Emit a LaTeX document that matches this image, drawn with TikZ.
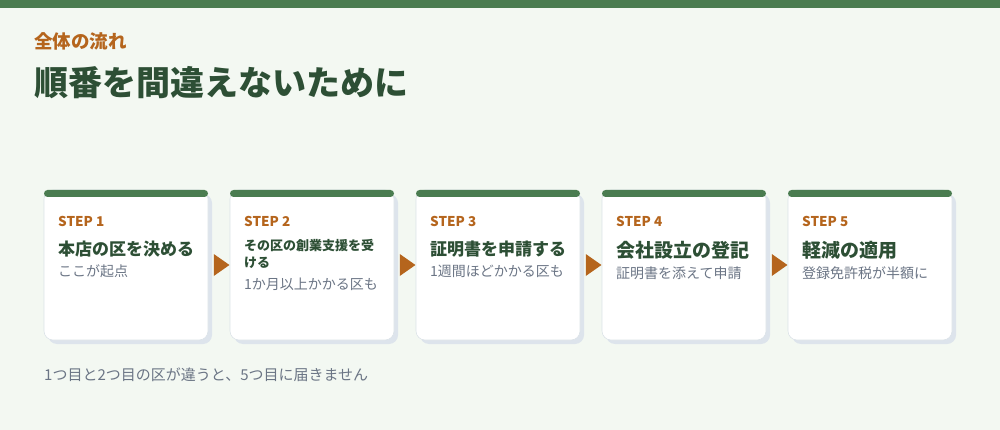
\documentclass[tikz,border=0pt]{standalone}
\usepackage{fontspec}
\setmainfont{Noto Sans CJK JP}
\usetikzlibrary{shapes.geometric}

\definecolor{bandgreen}{HTML}{4A7C50}
\definecolor{headgreen}{HTML}{2D4F35}
\definecolor{stepbrown}{HTML}{B5651D}
\definecolor{notegray}{HTML}{6B7585}
\definecolor{paper}{HTML}{F3F8F2}
\definecolor{cardshade}{HTML}{DDE4EC}
\definecolor{rim}{HTML}{DCE3E8}

\tikzset{
    steplabel/.style = {anchor=base west, inner sep=0pt, text=stepbrown, font=\fontsize{13.5}{13.5}\selectfont\bfseries},
    steptitle/.style = {anchor=base west, inner sep=0pt, text=headgreen, font=\fontsize{17}{17}\selectfont\bfseries},
    bigtitle/.style = {anchor=base west, inner sep=0pt, text=headgreen, font=\fontsize{19}{19}\selectfont\bfseries},
    smalltitle/.style = {anchor=base west, inner sep=0pt, text=headgreen, font=\fontsize{13}{13}\selectfont\bfseries},
    stepnote/.style = {anchor=base west, inner sep=0pt, text=notegray, font=\fontsize{14}{14}\selectfont},
    cardbox/.style = {fill=white, draw=rim, line width=0.6pt, rounded corners=9pt},
    nexttip/.style = {isosceles triangle, isosceles triangle apex angle=70, fill=stepbrown, inner sep=0pt, minimum height=15pt, minimum width=22pt}
}

\begin{document}
\begin{tikzpicture}[x=1pt, y=-1pt]
        \fill [paper] (0,0) rectangle (1000,430);
        \useasboundingbox (0,0) rectangle (1000,430);
        \fill [bandgreen] (0,0) rectangle (1000,8);

        \node [anchor=base west, inner sep=0pt, text=stepbrown, font=\fontsize{18.5}{18.5}\selectfont\bfseries] (kicker) at (34,49) {全体の流れ};
        \node [anchor=base west, inner sep=0pt, text=headgreen, font=\fontsize{34}{34}\selectfont\bfseries] (headline) at (34,96) {順番を間違えないために};

        % step cards
        \fill [cardshade, rounded corners=9pt] (48,194) rectangle (212,344);
        \draw [cardbox] (44,190) rectangle (208,340);
        \fill [bandgreen, rounded corners=3.5pt] (44,190) rectangle (208,197);
        \node [steplabel] (label1) at (58,226) {STEP 1};
        \node [steptitle] (title1) at (58,255) {本店の区を決める};
        \node [stepnote] (note1) at (58,276) {ここが起点};

        \fill [cardshade, rounded corners=9pt] (234,194) rectangle (398,344);
        \draw [cardbox] (230,190) rectangle (394,340);
        \fill [bandgreen, rounded corners=3.5pt] (230,190) rectangle (394,197);
        \node [steplabel] (label2) at (244,226) {STEP 2};
        \node [smalltitle] (title2) at (244,250.5) {その区の創業支援を受};
        \node [smalltitle] (title2b) at (244,267) {ける};
        \node [stepnote] (note2) at (244,289) {1か月以上かかる区も};

        \fill [cardshade, rounded corners=9pt] (420,194) rectangle (584,344);
        \draw [cardbox] (416,190) rectangle (580,340);
        \fill [bandgreen, rounded corners=3.5pt] (416,190) rectangle (580,197);
        \node [steplabel] (label3) at (430,226) {STEP 3};
        \node [steptitle] (title3) at (430,255) {証明書を申請する};
        \node [stepnote] (note3) at (430,276) {1週間ほどかかる区も};

        \fill [cardshade, rounded corners=9pt] (606,194) rectangle (770,344);
        \draw [cardbox] (602,190) rectangle (766,340);
        \fill [bandgreen, rounded corners=3.5pt] (602,190) rectangle (766,197);
        \node [steplabel] (label4) at (616,226) {STEP 4};
        \node [bigtitle] (title4) at (616,257) {会社設立の登記};
        \node [stepnote] (note4) at (616,278) {証明書を添えて申請};

        \fill [cardshade, rounded corners=9pt] (792,194) rectangle (956,344);
        \draw [cardbox] (788,190) rectangle (952,340);
        \fill [bandgreen, rounded corners=3.5pt] (788,190) rectangle (952,197);
        \node [steplabel] (label5) at (802,226) {STEP 5};
        \node [bigtitle] (title5) at (802,257) {軽減の適用};
        \node [stepnote] (note5) at (802,278) {登録免許税が半額に};

        % arrows between cards
        \node [nexttip] (tip1) at (219.5,265) {};
        \node [nexttip] (tip2) at (405.5,265) {};
        \node [nexttip] (tip3) at (591.5,265) {};
        \node [nexttip] (tip4) at (777.5,265) {};

        \node [anchor=base west, inner sep=0pt, text=notegray, font=\fontsize{15}{15}\selectfont] (footnote) at (44,380) {1つ目と2つ目の区が違うと、5つ目に届きません};
    \end{tikzpicture}
\end{document}
